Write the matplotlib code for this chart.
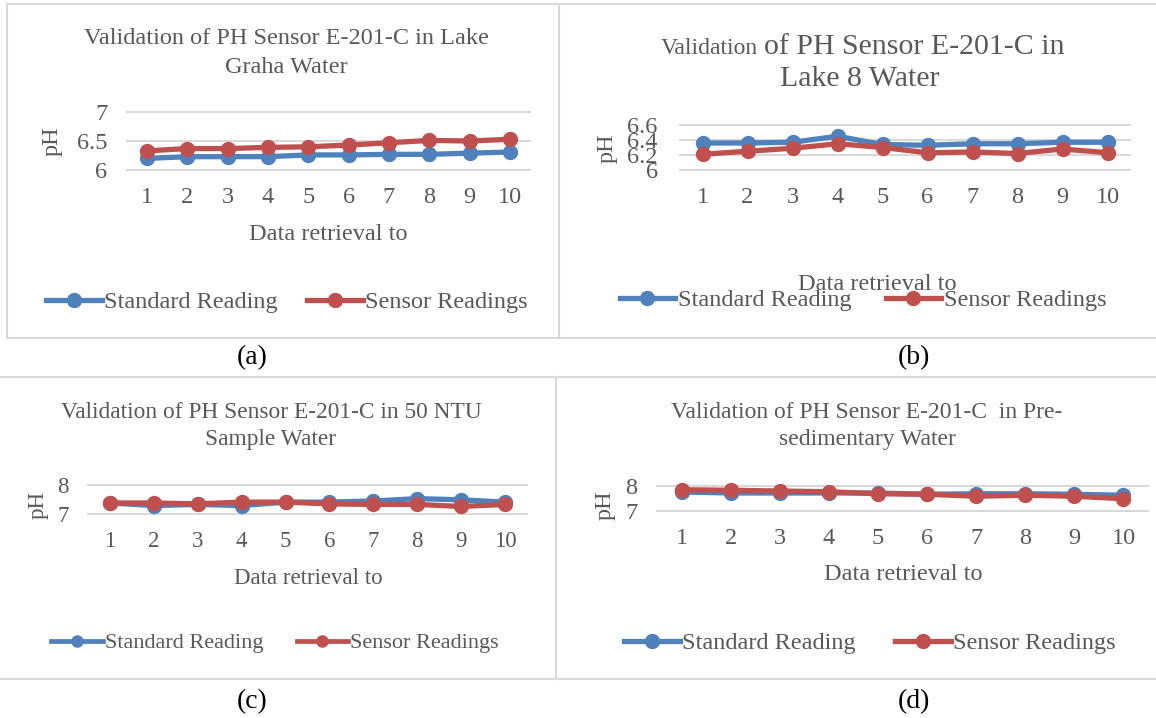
import numpy as np
import matplotlib
matplotlib.use("Agg")
import matplotlib.pyplot as plt
from matplotlib.lines import Line2D

plt.rcParams['font.family'] = ['Liberation Serif', 'DejaVu Serif']

# data
retrieval = list(range(1, 11))

std_a = [6.20, 6.23, 6.23, 6.23, 6.26, 6.26, 6.27, 6.27, 6.29, 6.31]
sen_a = [6.33, 6.37, 6.37, 6.39, 6.40, 6.43, 6.47, 6.51, 6.50, 6.53]

std_b = [6.36, 6.36, 6.37, 6.45, 6.34, 6.33, 6.35, 6.35, 6.37, 6.37]
sen_b = [6.21, 6.25, 6.29, 6.35, 6.30, 6.23, 6.24, 6.22, 6.28, 6.23]

std_c = [7.38, 7.29, 7.33, 7.29, 7.41, 7.41, 7.45, 7.53, 7.49, 7.41]
sen_c = [7.38, 7.38, 7.35, 7.41, 7.41, 7.35, 7.33, 7.33, 7.26, 7.33]

std_d = [7.76, 7.72, 7.72, 7.72, 7.72, 7.67, 7.69, 7.69, 7.67, 7.63]
sen_d = [7.85, 7.83, 7.80, 7.77, 7.69, 7.67, 7.59, 7.63, 7.59, 7.49]

W, H = 1156, 718
BLUE = '#4f81bd'
RED = '#c0504d'
GREY = '#595959'
GRID = '#d9d9d9'

fig = plt.figure(figsize=(W / 100, H / 100), dpi=100)


def fx(x):
    return x / W


def fy(y):
    return 1 - y / H


def make_ax(left, right, top, bottom):
    return fig.add_axes([fx(left), fy(bottom), (right - left) / W, (bottom - top) / H])


def draw_panel(ax, std, sen, ylim, yticks, fs=17.5, ms=10, lw=3.8):
    ax.plot(retrieval, std, color=BLUE, lw=lw, marker='o', ms=ms,
            clip_on=False, label='Standard Reading')
    ax.plot(retrieval, sen, color=RED, lw=lw, marker='o', ms=ms,
            clip_on=False, label='Sensor Readings')
    ax.set_xlim(0.5, 10.5)
    ax.set_ylim(*ylim)
    ax.set_xticks(retrieval)
    ax.set_yticks(yticks)
    ax.set_yticklabels([('%g' % v) for v in yticks])
    for s in ax.spines.values():
        s.set_visible(False)
    ax.tick_params(length=0, labelsize=fs, colors=GREY)
    ax.tick_params(axis='y', pad=14)
    ax.tick_params(axis='x', pad=12)
    ax.grid(axis='y', color=GRID, lw=1.5)
    ax.set_axisbelow(True)
    for gl in ax.get_ygridlines():
        gl.set_clip_on(False)


def legend(ax, cx, cy, fs=17.5, ms=10, lw=3.8, gap=1.2):
    h = [Line2D([], [], color=BLUE, lw=lw, marker='o', ms=ms),
         Line2D([], [], color=RED, lw=lw, marker='o', ms=ms)]
    fig.legend(h, ['Standard Reading', 'Sensor Readings'], loc='center',
               bbox_to_anchor=(fx(cx), fy(cy)), ncol=2, frameon=False,
               fontsize=fs, labelcolor=GREY, handlelength=2.3,
               handletextpad=0.1, columnspacing=gap)


def txt(x, y, s, **kw):
    kw.setdefault('color', GREY)
    kw.setdefault('ha', 'center')
    kw.setdefault('va', 'center')
    fig.text(fx(x), fy(y), s, **kw)


# (a)
ax_a = make_ax(127, 530, 112, 170)
draw_panel(ax_a, std_a, sen_a, (6, 7), [6, 6.5, 7])
txt(286, 53, 'Validation of PH Sensor E-201-C in Lake\nGraha Water', fontsize=17.5, linespacing=1.45)
txt(328, 235, 'Data retrieval to', fontsize=17.5)
txt(52, 141, 'pH', fontsize=17.5, rotation=90)
legend(ax_a, 287, 302)
txt(252, 358, '(a)', fontsize=20, color='black')

# (b)
ax_b = make_ax(680, 1130, 125, 170)
draw_panel(ax_b, std_b, sen_b, (6, 6.6), [6, 6.2, 6.4, 6.6])
ax_b.tick_params(axis='y', pad=16)
txt(758, 54, 'Validation', fontsize=17, ha='right', va='baseline')
txt(764, 54, 'of PH Sensor E-201-C in', fontsize=21.5, ha='left', va='baseline')
txt(860, 86, 'Lake 8 Water', fontsize=21.5, va='baseline')
txt(877, 285, 'Data retrieval to', fontsize=17.5)
txt(607, 148, 'pH', fontsize=17.5, rotation=90)
legend(ax_b, 863, 300, gap=1.4)
txt(914, 358, '(b)', fontsize=20, color='black')

# (c)
ax_c = make_ax(88, 527, 485, 514)
draw_panel(ax_c, std_c, sen_c, (7, 8), [7, 8], fs=16.5)
txt(271, 426, 'Validation of PH Sensor E-201-C in 50 NTU\nSample Water', fontsize=16.8, linespacing=1.4)
txt(308, 578, 'Data retrieval to', fontsize=16.5)
txt(38, 505, 'pH', fontsize=16.5, rotation=90)
legend(ax_c, 275, 643, fs=16, ms=8, lw=3.4, gap=1.5)
txt(252, 702, '(c)', fontsize=20, color='black')

# (d)
ax_d = make_ax(657, 1148, 486, 511)
draw_panel(ax_d, std_d, sen_d, (7, 8), [7, 8])
txt(867, 426, 'Validation of PH Sensor E-201-C  in Pre-\nsedimentary Water', fontsize=17, linespacing=1.4)
txt(903, 575, 'Data retrieval to', fontsize=17.5)
txt(605, 505, 'pH', fontsize=17.5, rotation=90)
legend(ax_d, 870, 643, gap=1.6)
txt(914, 702, '(d)', fontsize=20, color='black')

# table borders
borders = [
    ((7, 1156), (4, 4)),
    ((7, 7), (4, 338)),
    ((559, 559), (4, 338)),
    ((7, 1156), (338, 338)),
    ((0, 1156), (377, 377)),
    ((556, 556), (377, 679)),
    ((0, 1156), (679, 679)),
]
for xs, ys in borders:
    fig.add_artist(Line2D([fx(xs[0]), fx(xs[1])], [fy(ys[0]), fy(ys[1])],
                          color=GRID, lw=1.5))

fig.savefig('out.png', dpi=100)
